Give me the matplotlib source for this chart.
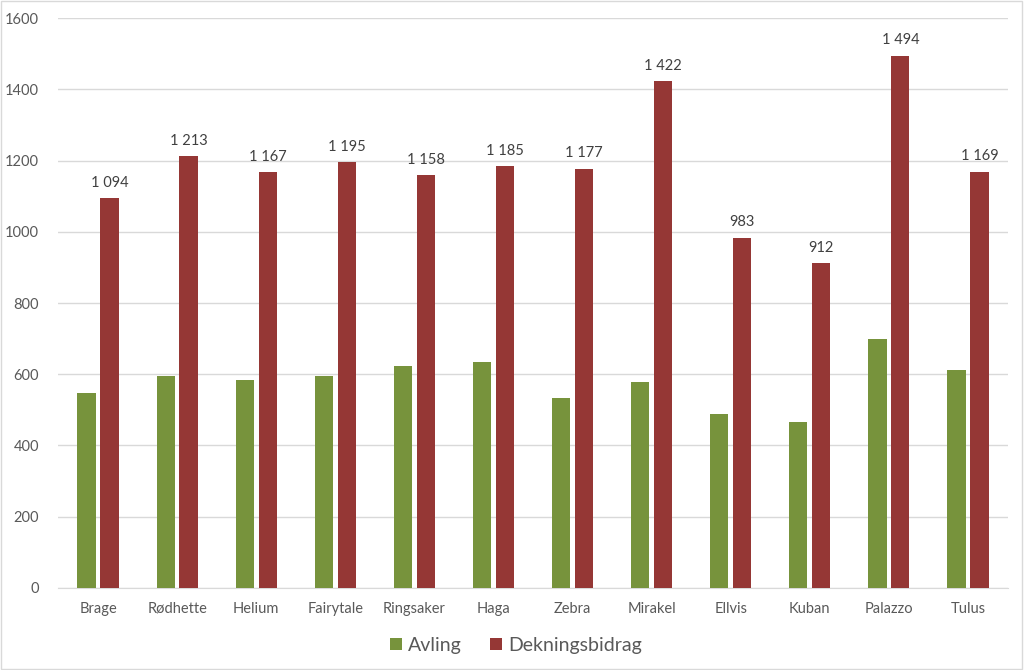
import numpy as np
import matplotlib
matplotlib.use("Agg")
from matplotlib import pyplot as plt
from matplotlib.patches import Rectangle

sorter = ["Brage", "Rødhette", "Helium", "Fairytale", "Ringsaker", "Haga",
          "Zebra", "Mirakel", "Ellvis", "Kuban", "Palazzo", "Tulus"]
avling = [548, 595, 584, 595, 622, 633, 533, 577, 489, 466, 698, 612]
dekningsbidrag = [1094, 1213, 1167, 1195, 1158, 1185, 1177, 1422, 983, 912, 1494, 1169]
y_ticks = [0, 200, 400, 600, 800, 1000, 1200, 1400, 1600]

GREEN = "#77933C"
RED = "#953735"
TEXT = "#595959"

plt.rcParams['font.family'] = ['Lato', 'DejaVu Sans']

fig = plt.figure(figsize=(10.24, 6.7), dpi=100)
ax = fig.add_axes([0.0571, 0.1224, 0.9268, 0.8507])

x = np.arange(len(sorter))
width = 0.23
offset = 0.145
ax.bar(x - offset, avling, width, color=GREEN, label="Avling", zorder=3)
bars = ax.bar(x + offset, dekningsbidrag, width, color=RED, label="Dekningsbidrag", zorder=3)

# verdi over de røde søylene, med mellomrom som tusenskille
for rect, val in zip(bars, dekningsbidrag):
    txt = f"{val:,}".replace(",", " ")
    ax.annotate(txt, (rect.get_x() + rect.get_width() / 2, rect.get_height()),
                xytext=(0, 6), textcoords="offset points", ha="center", va="bottom",
                fontsize=10.5, color="#404040")

ax.set_xlim(-0.5, len(sorter) - 0.5)
ax.set_ylim(0, 1600)
ax.set_yticks(y_ticks)
ax.set_xticks(x)
ax.set_xticklabels(sorter)
ax.yaxis.grid(True, color="#D9D9D9", linewidth=1, zorder=0)
ax.tick_params(axis="both", length=0, labelsize=10.5, colors=TEXT)
ax.tick_params(axis="x", pad=10)
ax.tick_params(axis="y", pad=14)
for side in ["top", "right", "left"]:
    ax.spines[side].set_visible(False)
ax.spines["bottom"].set_color("#D9D9D9")

ax.legend(loc="upper center", bbox_to_anchor=(0.482, -0.055), ncol=2, frameon=False,
          fontsize=14, handlelength=0.6, handleheight=0.6, handletextpad=0.3,
          columnspacing=1.5, labelcolor=TEXT)

fig.patches.append(Rectangle((0.001, 0.001), 0.997, 0.997, transform=fig.transFigure,
                             fill=False, edgecolor="#D9D9D9", linewidth=1))

fig.savefig("out.png", dpi=100)
